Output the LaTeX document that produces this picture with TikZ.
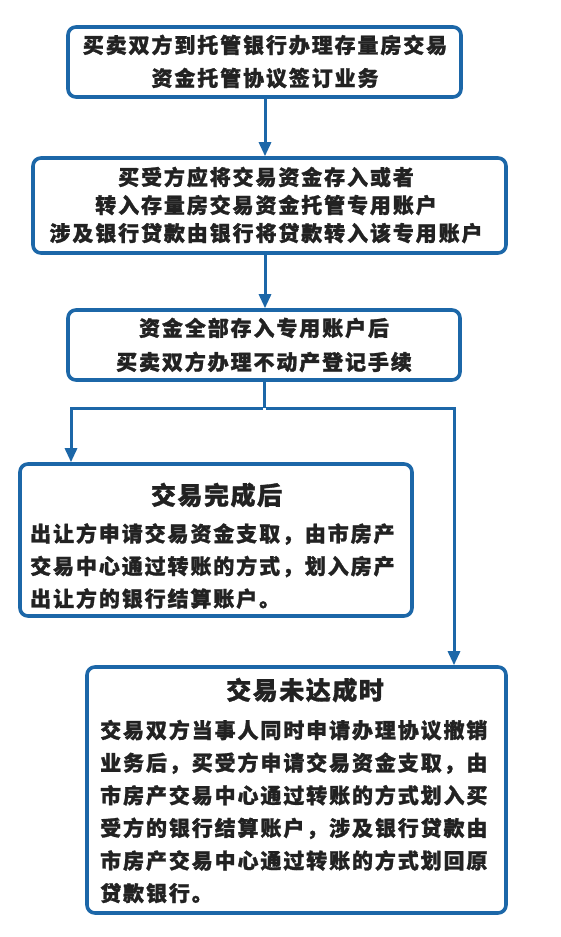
\documentclass[tikz,border=0pt]{standalone}
\usepackage{fontspec}
\setmainfont{Noto Sans CJK SC}[LetterSpace=9,BoldFeatures={FakeBold=1.2}]
\newfontfamily\titlefont{Noto Sans CJK SC}[LetterSpace=6,BoldFeatures={FakeBold=1.2}]
\usetikzlibrary{arrows.meta,calc}
\definecolor{bblue}{HTML}{1C67A8}
\definecolor{txt}{HTML}{222222}
\begin{document}
\begin{tikzpicture}[x=1pt,y=-1pt,
  box/.style={draw=bblue,line width=3.6pt,rounded corners=8pt,fill=white,inner sep=0pt},
  body/.style={text=txt,font=\bfseries\fontsize{21}{33}\selectfont,inner sep=0pt},
  ttl/.style={text=txt,font=\titlefont\bfseries\fontsize{25}{30}\selectfont,inner sep=0pt},
  conn/.style={draw=bblue,line width=3pt},
  arr/.style={conn,-{Triangle[width=12pt,length=14pt]}}]
\useasboundingbox[fill=white] (0,0) rectangle (560,937);
% boxes
\node[box,minimum width=393pt,minimum height=70pt] (b1) at (264.5,62) {};
\node[box,minimum width=473pt,minimum height=95pt] (b2) at (269.5,205.5) {};
\node[box,minimum width=392pt,minimum height=70pt] (b3) at (264,345) {};
\node[box,minimum width=392pt,minimum height=152pt] (b4) at (216,540) {};
\node[box,minimum width=419pt,minimum height=246pt] (b5) at (296.5,790) {};
% texts
\node[body,align=center,font=\bfseries\fontsize{21}{33}\selectfont] (t1) at (265,61.5) {买卖双方到托管银行办理存量房交易\\资金托管协议签订业务};
\node[body,align=center,font=\bfseries\fontsize{21}{28}\selectfont] (t2) at (266,205) {买受方应将交易资金存入或者\\转入存量房交易资金托管专用账户\\涉及银行贷款由银行将贷款转入该专用账户};
\node[body,align=center,font=\bfseries\fontsize{21}{34}\selectfont] (t3) at (264,345) {资金全部存入专用账户后\\买卖双方办理不动产登记手续};
\node[ttl] (h4) at (216.5,495) {交易完成后};
\node[body,align=left,anchor=west,font=\bfseries\fontsize{21}{32.5}\selectfont] (t4) at (30,566) {出让方申请交易资金支取，由市房产\\交易中心通过转账的方式，划入房产\\出让方的银行结算账户。};
\node[ttl] (h5) at (305,690) {交易未达成时};
\node[body,align=left,anchor=west,font=\bfseries\fontsize{21}{32.6}\selectfont] (t5) at (100,811.5) {交易双方当事人同时申请办理协议撤销\\业务后，买受方申请交易资金支取，由\\市房产交易中心通过转账的方式划入买\\受方的银行结算账户，涉及银行贷款由\\市房产交易中心通过转账的方式划回原\\贷款银行。};
% connectors
\coordinate (j) at (264,408);
\draw[arr] ([xshift=0.5pt]b1.south) -- ([xshift=0.5pt]b1.south |- b2.north);
\draw[arr] ([xshift=-4.5pt]b2.south) -- ([xshift=-4.5pt]b2.south |- b3.north);
\draw[conn] (b3.south) -- (j);
\draw[arr] ([xshift=-1.5pt]j) -| ([xshift=-145pt]b4.north);
\draw[arr] ([xshift=1.5pt]j) -| ([xshift=157.5pt]b5.north);
\end{tikzpicture}
\end{document}
